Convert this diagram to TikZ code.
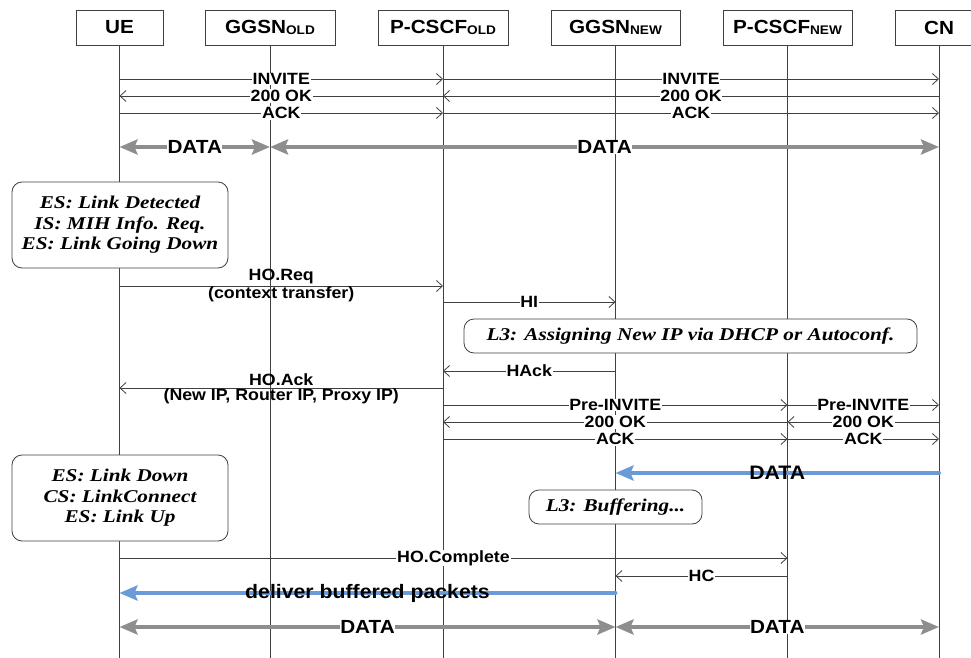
\documentclass[tikz,border=0pt]{standalone}
\usepackage{fontspec}
\setmainfont{Liberation Serif}
\newfontfamily\sansf[FakeStretch=1.09]{Liberation Sans}
\newfontfamily\notefont[FakeStretch=1.18]{Liberation Serif}
\usetikzlibrary{arrows.meta}

\definecolor{linegray}{HTML}{404040}
\definecolor{datagray}{HTML}{8E8E8E}
\definecolor{datablue}{HTML}{6A9AD8}

% small, slightly lowered subscript used in the entity names
\newcommand\lsub[1]{\raisebox{-1.5pt}{\fontsize{12.5}{13}\selectfont #1}}
% one thin message between two lifelines at height #3
\newcommand\msgline[4]{\draw[msg] (#1 |- 0,#3) -- node[lbl] {#4} (#2 |- 0,#3);}

\begin{document}
\begin{tikzpicture}[x=1pt,y=-1pt,
  entity/.style={draw=linegray, line width=0.8pt, fill=white, minimum height=35pt,
    inner sep=0pt, font=\sansf\bfseries\fontsize{19}{22}\selectfont},
  life/.style={draw=linegray, line width=0.9pt},
  msg/.style={draw=linegray, line width=0.8pt,
    -{Straight Barb[length=6pt,width=11pt,line width=0.8pt]}},
  lbl/.style={fill=white, inner sep=0.8pt, font=\sansf\bfseries\fontsize{16.3}{18}\selectfont},
  lblplain/.style={inner sep=1.5pt, font=\sansf\bfseries\fontsize{16.3}{18}\selectfont},
  dataflow/.style={draw=datagray, line width=4.5pt,
    {Stealth[length=18pt,width=15pt,inset=3pt]}-{Stealth[length=18pt,width=15pt,inset=3pt]}},
  datalbl/.style={fill=white, inner sep=0.5pt, font=\sansf\bfseries\fontsize{19}{21}\selectfont},
  blueflow/.style={draw=datablue, line width=4pt, line cap=round,
    -{Stealth[length=18pt,width=15pt,inset=3pt]}},
  bluelbl/.style={inner sep=0pt, font=\sansf\bfseries\fontsize{19.5}{21}\selectfont},
  note/.style={draw=linegray, line width=0.8pt, fill=white, rounded corners=10pt,
    align=center, inner sep=0pt,
    font=\notefont\bfseries\itshape\fontsize{18}{20.5}\selectfont}
]
\path[use as bounding box] (0,0) rectangle (971,658);
\clip (0,0) rectangle (971,658);

% entities
\node[entity, minimum width=87pt]  (ue)   at (119.5,27.5) {UE};
\node[entity, minimum width=130pt] (gold) at (270,27.5)   {GGSN\lsub{OLD}};
\node[entity, minimum width=130pt] (pold) at (443,27.5)   {P-CSCF\lsub{OLD}};
\node[entity, minimum width=129pt] (gnew) at (615.5,27.5) {GGSN\lsub{NEW}};
\node[entity, minimum width=129pt] (pnew) at (787.5,27.5) {P-CSCF\lsub{NEW}};
\node[entity, minimum width=88pt]  (cn)   at (939,27.5)   {CN};

% lifelines
\foreach \e in {ue,gold,pold,gnew,pnew,cn}{
  \coordinate (\e-end) at (\e.south |- 0,660);
  \draw[life] (\e.south) -- (\e-end);
}

% session set-up
\msgline{ue}{pold}{79}{INVITE}
\msgline{pold}{cn}{79}{INVITE}
\msgline{pold}{ue}{96}{200 OK}
\msgline{cn}{pold}{96}{200 OK}
\msgline{ue}{pold}{113}{ACK}
\msgline{pold}{cn}{113}{ACK}

\draw[dataflow] (ue |- 0,147) -- node[datalbl] {DATA} (gold |- 0,147);
\draw[dataflow] (gold |- 0,147) -- node[datalbl] {DATA} (cn |- 0,147);

% link events at the terminal
\node[note, minimum width=216pt, minimum height=86pt] (ev1) at (120,225)
  {ES: Link Detected\\IS: MIH Info. Req.\\ES: Link Going Down};

% handover preparation
\draw[msg] (ue |- 0,286) -- node[lblplain, above] {HO.Req}
  node[lblplain, below, inner sep=0.5pt] {(context transfer)} (pold |- 0,286);
\msgline{pold}{gnew}{302}{HI}

\node[note, minimum width=453pt, minimum height=34pt] (l3ip) at (690.5,336)
  {L3: Assigning New IP via DHCP or Autoconf.};

\msgline{gnew}{pold}{371}{HAck}
\draw[msg] (pold |- 0,388) -- node[lblplain, above] {HO.Ack}
  node[lblplain, below, inner sep=0.5pt] {(New IP, Router IP, Proxy IP)} (ue |- 0,388);

% pre-registration of the new session
\msgline{pold}{pnew}{405}{Pre-INVITE}
\msgline{pnew}{cn}{405}{Pre-INVITE}
\msgline{pnew}{pold}{422}{200 OK}
\msgline{cn}{pnew}{422}{200 OK}
\msgline{pold}{pnew}{439}{ACK}
\msgline{pnew}{cn}{439}{ACK}

\draw[blueflow] (cn |- 0,473) -- node[bluelbl] {DATA} (gnew |- 0,473);

\node[note, minimum width=216pt, minimum height=86pt] (ev2) at (120,498)
  {ES: Link Down\\CS: LinkConnect\\ES: Link Up};
\node[note, minimum width=173pt, minimum height=34pt] (buf) at (615.5,507)
  {L3: Buffering...};

% handover completion
\msgline{ue}{pnew}{558}{HO.Complete}
\msgline{pnew}{gnew}{576}{HC}
\draw[blueflow] (gnew |- 0,593) -- node[bluelbl] {deliver buffered packets} (ue |- 0,593);

\draw[dataflow] (ue |- 0,627) -- node[datalbl] {DATA} (gnew |- 0,627);
\draw[dataflow] (gnew |- 0,627) -- node[datalbl] {DATA} (cn |- 0,627);
\end{tikzpicture}
\end{document}
